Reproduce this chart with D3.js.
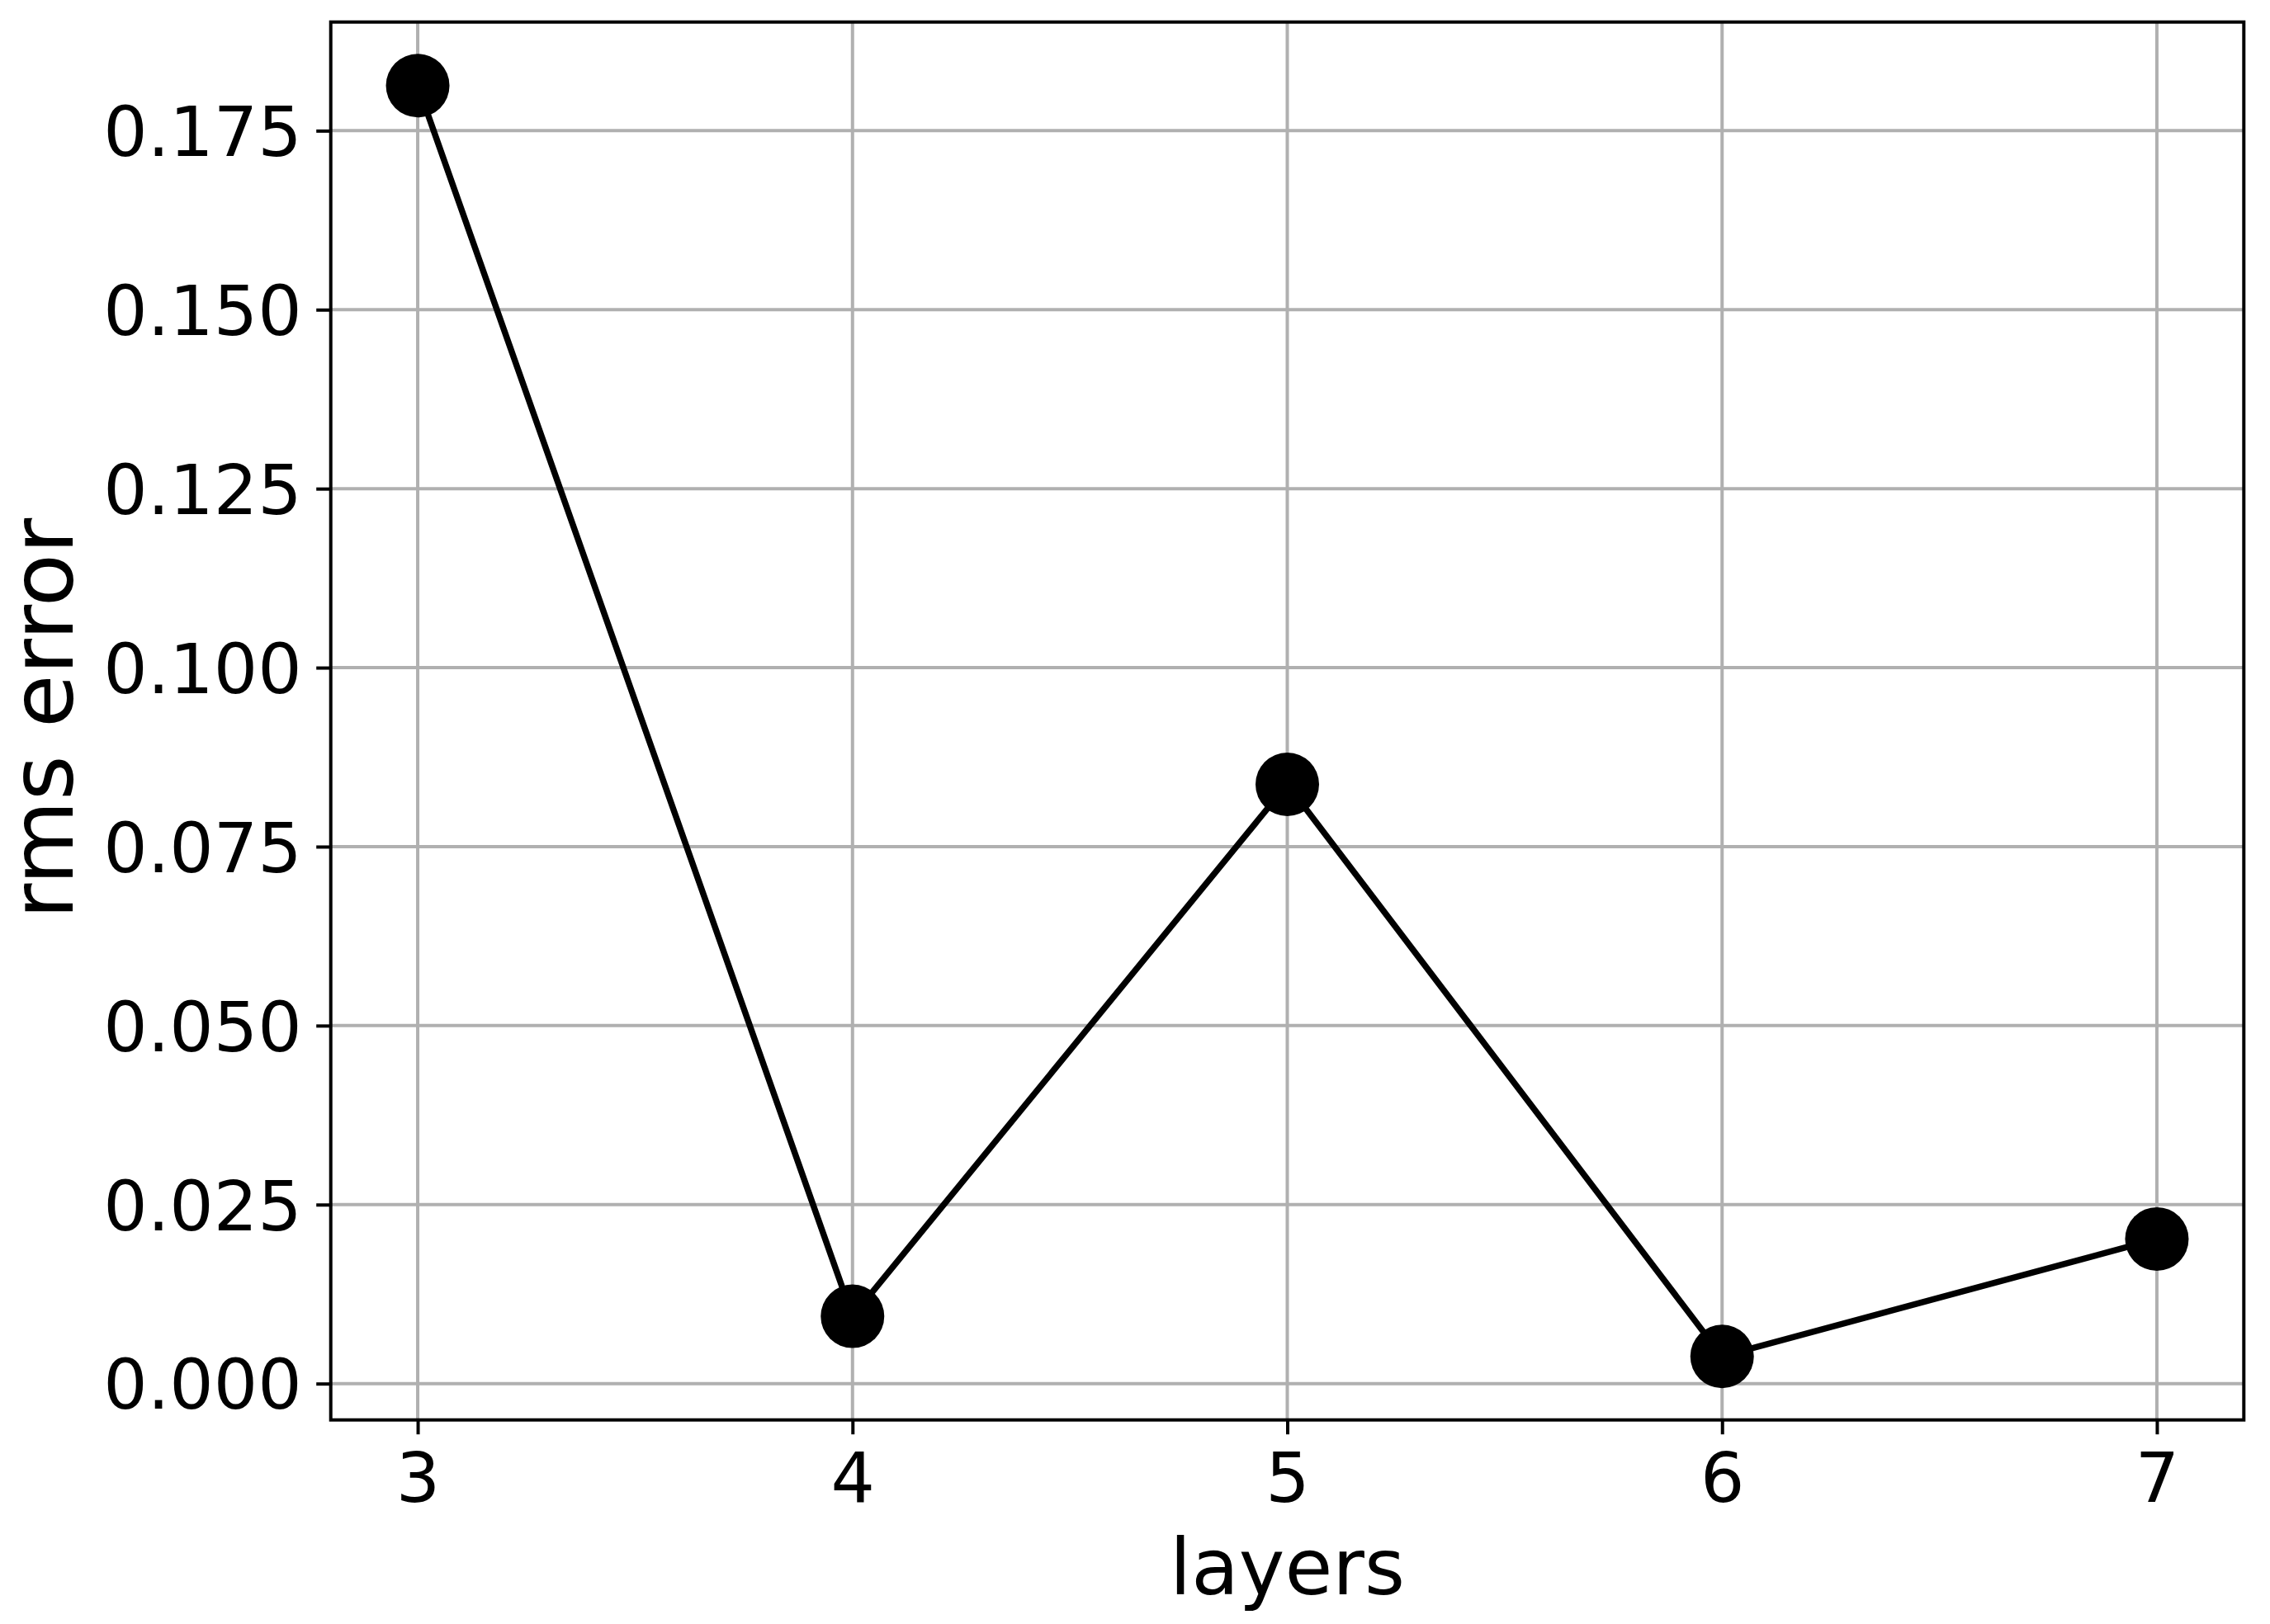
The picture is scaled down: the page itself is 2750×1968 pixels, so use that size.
<!DOCTYPE html>
<html>
<head>
<meta charset="utf-8">
<script src="https://cdn.jsdelivr.net/npm/d3@7"></script>
<style>
  html, body { margin: 0; padding: 0; background: #ffffff; }
  svg { display: block; }
  text { font-family: "DejaVu Sans", sans-serif; fill: #000; }
</style>
</head>
<body>
<script>
// ---- data ----
const layers = [3, 4, 5, 6, 7];
const rmsError = [0.1813, 0.0094, 0.0837, 0.0038, 0.0202];
const xTicks = [3, 4, 5, 6, 7];
const yTicks = [0.000, 0.025, 0.050, 0.075, 0.100, 0.125, 0.150, 0.175];
const xLabel = "layers";
const yLabel = "rms error";

(function () {
// ---- layout ----
const W = 2750, H = 1968;
const pL = 400.7, pR = 2718.3, pT = 26.7, pB = 1720.7;

const svg = d3.select("body").append("svg")
  .attr("width", W).attr("height", H);

// domains with matplotlib-like 5% margins
const xMin = d3.min(layers), xMax = d3.max(layers);
const xPad = (xMax - xMin) * 0.05;
const yMin = d3.min(rmsError), yMax = d3.max(rmsError);
const yPad = (yMax - yMin) * 0.05;

const x = d3.scaleLinear().domain([xMin - xPad, xMax + xPad]).range([pL, pR]);
const y = d3.scaleLinear().domain([yMin - yPad, yMax + yPad]).range([pB, pT]);

const tickLen = 17.5, tickPad = 17.5;

// grid
const grid = svg.append("g");
grid.selectAll("line.gx").data(xTicks).enter().append("line")
  .attr("x1", d => x(d)).attr("x2", d => x(d))
  .attr("y1", pT).attr("y2", pB)
  .attr("stroke", "#b0b0b0").attr("stroke-width", 4);
grid.selectAll("line.gy").data(yTicks).enter().append("line")
  .attr("x1", pL).attr("x2", pR)
  .attr("y1", d => y(d)).attr("y2", d => y(d))
  .attr("stroke", "#b0b0b0").attr("stroke-width", 4);

// axes via d3
const xAxis = d3.axisBottom(x).tickValues(xTicks).tickFormat(d3.format("d"))
  .tickSizeInner(tickLen).tickSizeOuter(0).tickPadding(tickPad);
const yAxis = d3.axisLeft(y).tickValues(yTicks).tickFormat(d3.format(".3f"))
  .tickSizeInner(tickLen).tickSizeOuter(0).tickPadding(tickPad);

const gx = svg.append("g").attr("transform", `translate(0,${pB})`).call(xAxis);
const gy = svg.append("g").attr("transform", `translate(${pL},0)`).call(yAxis);
[gx, gy].forEach(g => {
  g.select(".domain").remove();
  g.selectAll(".tick line").attr("stroke", "#000").attr("stroke-width", 4);
  g.selectAll(".tick text")
    .attr("font-family", "DejaVu Sans, sans-serif")
    .attr("font-size", 84).attr("fill", "#000");
});
gx.selectAll(".tick text").attr("dy", null).attr("y", 1820 - pB);
gy.selectAll(".tick text").attr("dy", "0.36em");

// line
const line = d3.line().x((d, i) => x(layers[i])).y(d => y(d));
svg.append("path").datum(rmsError)
  .attr("d", line)
  .attr("fill", "none").attr("stroke", "#000")
  .attr("stroke-width", 7.5).attr("stroke-linejoin", "round").attr("stroke-linecap", "square");

// markers
svg.selectAll("circle.pt").data(rmsError).enter().append("circle")
  .attr("cx", (d, i) => x(layers[i])).attr("cy", d => y(d))
  .attr("r", 38.5).attr("fill", "#000");

// spines
svg.append("rect")
  .attr("x", pL).attr("y", pT)
  .attr("width", pR - pL).attr("height", pB - pT)
  .attr("fill", "none").attr("stroke", "#000").attr("stroke-width", 4)
  .attr("stroke-linejoin", "miter");

// axis labels
svg.append("text")
  .attr("x", (pL + pR) / 2).attr("y", 1932)
  .attr("text-anchor", "middle").attr("font-size", 94)
  .text(xLabel);
svg.append("text")
  .attr("transform", `translate(88,${(pT + pB) / 2 - 3}) rotate(-90)`)
  .attr("text-anchor", "middle").attr("font-size", 105)
  .text(yLabel);
})();
</script>
</body>
</html>
